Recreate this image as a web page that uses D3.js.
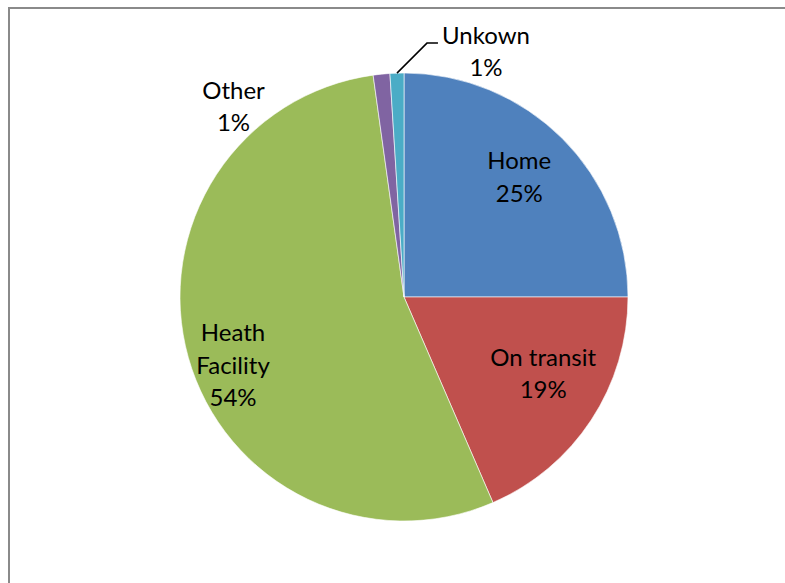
<!DOCTYPE html>
<html>
<head>
<meta charset="utf-8">
<script src="https://cdn.jsdelivr.net/npm/d3@7"></script>
<style>
  html, body { margin: 0; padding: 0; background: #fff; }
  svg { display: block; }
  text { font-family: Lato, "Open Sans", sans-serif; fill: #000; }
</style>
</head>
<body>
<svg id="chart" width="785" height="583"></svg>
<script>
// ---- data ----
const categories = ["Home", "On transit", "Heath Facility", "Other", "Unkown"];
const values = [25.0, 18.5, 54.3, 1.2, 1.0];
const percentLabels = ["25%", "19%", "54%", "1%", "1%"];
const labelLines = [["Home"], ["On transit"], ["Heath", "Facility"], ["Other"], ["Unkown"]];
const colors = ["#4F81BD", "#C0504D", "#9BBB59", "#8064A2", "#4BACC6"];

// ---- layout ----
const cx = 404, cy = 297, R = 224;
const fontSize = 24, lineH = 32.5;

const svg = d3.select("#chart");

// chart area border
svg.append("rect")
  .attr("x", 9).attr("y", 8)
  .attr("width", 900).attr("height", 700)
  .attr("fill", "none")
  .attr("stroke", "#8a8a8a")
  .attr("stroke-width", 2);

const pie = d3.pie().sort(null).value(d => d.value);
const arcs = pie(categories.map((c, i) => ({ name: c, value: values[i], i })));

const arc = d3.arc().innerRadius(0).outerRadius(R);
const labelArc = d3.arc().innerRadius(163).outerRadius(163);
const edgeArc = d3.arc().innerRadius(R).outerRadius(R);

const g = svg.append("g").attr("transform", `translate(${cx},${cy})`);

g.selectAll("path.slice")
  .data(arcs)
  .enter().append("path")
  .attr("class", "slice")
  .attr("d", arc)
  .attr("fill", d => colors[d.data.i])
  .attr("stroke", "#ffffff")
  .attr("stroke-width", 0.6);

// label placement: inside labels at centroid (+ nudge), outside labels beside the slice edge
const nudges = [[0, 0], [3, -8], [-14, 29], [-148, 37], [89, -17]];
function labelPos(d) {
  const i = d.data.i;
  const c = (i >= 3 ? edgeArc : labelArc).centroid(d);
  return [c[0] + nudges[i][0], c[1] + nudges[i][1]];
}

// leader line for "Unkown"
const dU = arcs[4];
const pU = edgeArc.centroid(dU);
g.append("polyline")
  .attr("points", [[pU[0], pU[1]], [pU[0] + 30, pU[1] - 30], [pU[0] + 41, pU[1] - 30]].map(p => p.join(",")).join(" "))
  .attr("fill", "none")
  .attr("stroke", "#000")
  .attr("stroke-width", 1.5);

arcs.forEach(d => {
  const i = d.data.i;
  const lines = labelLines[i].concat([percentLabels[i]]);
  const [x, y] = labelPos(d);
  const n = lines.length;
  const t = g.append("text")
    .attr("text-anchor", "middle")
    .style("font-size", fontSize + "px");
  lines.forEach((s, k) => {
    t.append("tspan")
      .attr("x", x)
      .attr("y", y + (k - (n - 1) / 2) * lineH + 3.75)
      .text(s);
  });
});
</script>
</body>
</html>
